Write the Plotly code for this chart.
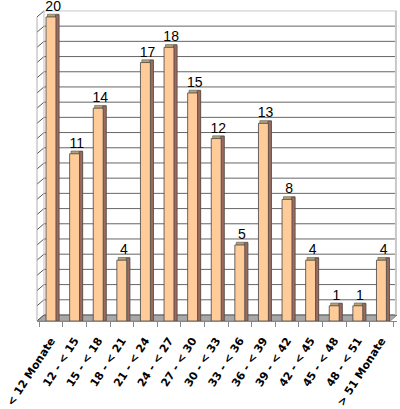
import plotly.graph_objects as go

categories = ["< 12 Monate", "12 - < 15", "15 - < 18", "18 - < 21", "21 - < 24",
              "24 - < 27", "27 - < 30", "30 - < 33", "33 - < 36", "36 - < 39",
              "39 - < 42", "42 - < 45", "45 - < 48", "48 - < 51", "> 51 Monate"]
values = [20, 11, 14, 4, 17, 18, 15, 12, 5, 13, 8, 4, 1, 1, 4]

FRONT = "#FFCC99"
SIDE = "#9C6A5E"
TOP = "#B4A272"
DEPTH = 0.18     # apparent height of the bar tops, in value units
WALL = 0.395     # back-wall offset in value units

fig = go.Figure()

# top face
fig.add_trace(go.Bar(
    x=categories, y=[v + DEPTH for v in values],
    offset=-0.15, width=0.49,
    marker=dict(color=TOP, line=dict(color="#555555", width=0.6)),
    hoverinfo="skip", showlegend=False,
))
# side face
fig.add_trace(go.Bar(
    x=categories, y=[v + DEPTH * 0.8 for v in values],
    offset=0.19, width=0.15,
    marker=dict(color=SIDE, line=dict(color="#444444", width=0.6)),
    hoverinfo="skip", showlegend=False,
))
# front face
fig.add_trace(go.Bar(
    x=categories, y=values,
    offset=-0.21, width=0.42,
    marker=dict(color=FRONT, line=dict(color="#444444", width=0.8)),
    showlegend=False,
))
# value labels (transparent carrier bars)
fig.add_trace(go.Bar(
    x=categories, y=values,
    offset=-0.15, width=0.49,
    marker=dict(color="rgba(0,0,0,0)", line=dict(width=0)),
    text=[str(v) for v in values], texttemplate="%{text}",
    textposition="outside", constraintext="none", cliponaxis=False,
    textfont=dict(family="Liberation Sans, Arial, sans-serif", size=14, color="#000000"),
    hoverinfo="skip", showlegend=False,
))

shapes = []
# floor
shapes.append(dict(type="path", xref="paper", yref="y", layer="below",
                   path=f"M 0,0 L 0.981,0 L 1,{WALL} L 0.0194,{WALL} Z",
                   fillcolor="#A8A8A8", line=dict(color="#888888", width=1)))
# back wall gridlines + left wall ticks
for v in range(0, 21):
    col = "#C8C8C8" if v == 20 else "#666666"
    shapes.append(dict(type="line", xref="paper", yref="y", layer="below",
                       x0=0.0194, x1=1, y0=v + WALL, y1=v + WALL,
                       line=dict(color=col, width=1)))
    shapes.append(dict(type="line", xref="paper", yref="y", layer="below",
                       x0=0, x1=0.0194, y0=v, y1=v + WALL,
                       line=dict(color="#555555", width=1)))
# left wall edges
shapes.append(dict(type="line", xref="paper", yref="y", layer="below",
                   x0=0, x1=0, y0=0, y1=20, line=dict(color="#B0B0B0", width=1)))
shapes.append(dict(type="line", xref="paper", yref="y", layer="below",
                   x0=0.0194, x1=0.0194, y0=WALL, y1=20 + WALL,
                   line=dict(color="#C0C0C0", width=1)))
# right wall edge
shapes.append(dict(type="line", xref="paper", yref="y", layer="below",
                   x0=0.997, x1=0.997, y0=WALL, y1=20 + WALL,
                   line=dict(color="#C8C8C8", width=2)))

fig.update_layout(
    width=400, height=409,
    margin=dict(l=37, r=3, t=6, b=88, autoexpand=False),
    paper_bgcolor="white", plot_bgcolor="white",
    barmode="overlay",
    shapes=shapes,
    xaxis=dict(
        type="category", range=[-0.593, 14.66], automargin=False,
        tickangle=-57, ticks="outside", tickson="boundaries", ticklen=5,
        ticklabelstandoff=8,
        tickcolor="#888888", showline=True, linecolor="#888888", linewidth=1,
        showgrid=False,
        tickfont=dict(family="DejaVu Sans, Verdana, sans-serif", size=11,
                      color="#000000", weight="bold"),
    ),
    yaxis=dict(range=[0, 20.72], showgrid=False, showticklabels=False,
               zeroline=False, showline=False, ticks="", automargin=False),
)

fig.write_html("out.html", config={"displayModeBar": False},
               post_script="document.body.style.margin='0';document.body.style.padding='0';")
